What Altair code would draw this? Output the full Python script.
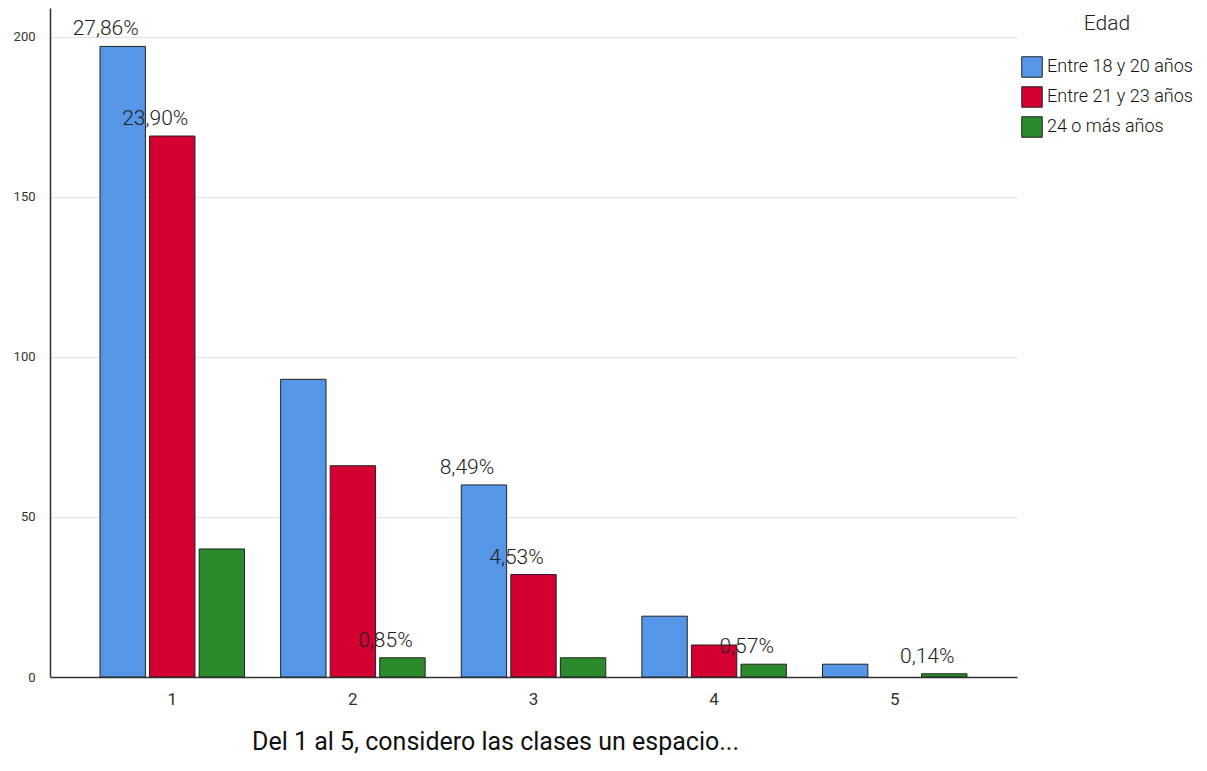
import altair as alt
import pandas as pd

categories = ["1", "2", "3", "4", "5"]
series = ["Entre 18 y 20 años", "Entre 21 y 23 años", "24 o más años"]
values_18_20 = [197, 93, 60, 19, 4]
values_21_23 = [169, 66, 32, 10, 0]
values_24_mas = [40, 6, 6, 4, 1]
labels_18_20 = ["27,86%", "", "8,49%", "", ""]
labels_21_23 = ["23,90%", "", "4,53%", "", ""]
labels_24_mas = ["", "0,85%", "", "0,57%", "0,14%"]
colors = ["#5596E6", "#D50032", "#2B8A2B"]

rows = []
for s, vals, labs in zip(series, [values_18_20, values_21_23, values_24_mas],
                         [labels_18_20, labels_21_23, labels_24_mas]):
    for c, v, l in zip(categories, vals, labs):
        rows.append({"cat": c, "serie": s, "valor": v, "etiqueta": l})
df = pd.DataFrame(rows)

x = alt.X("cat:N", sort=categories,
          scale=alt.Scale(paddingInner=0.2, paddingOuter=0.277),
          axis=alt.Axis(title="Del 1 al 5, considero las clases un espacio...",
                        labelAngle=0, labelFontSize=17, labelColor="#333",
                        labelPadding=14, ticks=False, domainColor="#333",
                        domainWidth=1.5, grid=False,
                        titleFontSize=25, titleFontWeight="normal", titleColor="#111",
                        titleX=445, titleY=72, titleAlign="center",
                        titleBaseline="alphabetic"))
xo = alt.XOffset("serie:N", sort=series,
                 scale=alt.Scale(domain=series, paddingInner=0.084, paddingOuter=0))
y = alt.Y("valor:Q", scale=alt.Scale(domain=[0, 209], nice=False),
          axis=alt.Axis(title=None, values=[0, 50, 100, 150, 200], ticks=False,
                        labelFontSize=13, labelColor="#333", labelPadding=15,
                        domainColor="#333", domainWidth=1.5,
                        gridColor="#e3e3e3", gridWidth=1))

bars = alt.Chart(df).transform_filter(alt.datum.valor > 0).mark_bar(
    stroke="#222", strokeWidth=1).encode(
    x=x, xOffset=xo, y=y,
    color=alt.Color("serie:N", sort=series,
                    scale=alt.Scale(domain=series, range=colors),
                    legend=alt.Legend(title="Edad", orient="none",
                                      legendX=971, legendY=5,
                                      titleFontSize=21, titleFontWeight=300,
                                      titleColor="#222", titleAnchor="middle",
                                      titlePadding=22,
                                      symbolType="square", symbolSize=420,
                                      symbolStrokeColor="#222", symbolStrokeWidth=1,
                                      symbolOpacity=1,
                                      labelFontSize=18, labelFontWeight=300,
                                      labelColor="#111",
                                      labelOffset=4, rowPadding=4)),
)

text = alt.Chart(df).mark_text(fontSize=21, fontWeight=300, color="#222",
                               dx=-17, dy=-11, baseline="alphabetic",
                               align="center").encode(
    x=x, xOffset=xo, y=y, text="etiqueta:N"
)

chart = (bars + text).properties(
    width=967, height=669,
    autosize=alt.AutoSizeParams(type="none"),
    padding={"left": 42, "top": 0, "right": 182, "bottom": 86},
).configure(font="Roboto").configure_view(stroke=None)

chart.save("out.html", embed_options={"renderer": "svg", "actions": False})
